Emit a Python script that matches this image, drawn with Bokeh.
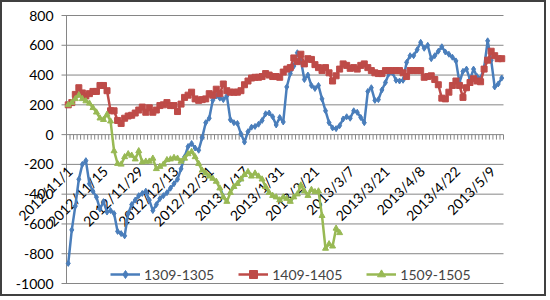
import math
from bokeh.plotting import figure
from bokeh.models import Range1d, Legend, LegendItem
from bokeh.core.properties import value
from bokeh.embed import file_html
from bokeh.resources import INLINE

# ---- data (one value per trading day) ----
s1309_1305 = [
    -865, -640, -480, -300, -200, -175, -330, -380, -420, -500,
    -450, -520, -510, -530, -650, -665, -680, -530, -470, -440,
    -410, -395, -380, -440, -510, -470, -430, -410, -390, -360,
    -330, -300, -230, -150, -80, -60, -90, -105, -20, 80,
    110, 230, 260, 245, 235, 260, 100, 80, 75, 5,
    -50, 20, 50, 55, 70, 95, 140, 145, 120, 65,
    115, 85, 320, 410, 460, 550, 500, 370, 400, 330,
    310, 330, 240, 160, 80, 45, 40, 60, 105, 120,
    110, 160, 150, 115, 80, 290, 315, 230, 235, 300,
    350, 410, 415, 365, 360, 365, 485, 530, 530, 570,
    620, 580, 600, 510, 530, 560, 590, 555, 540, 520,
    495, 350, 425, 440, 370, 440, 390, 380, 450, 630,
    500, 320, 340, 380,
]
s1409_1405 = [
    200, 215, 270, 315, 280, 260, 275, 290, 290, 330,
    330, 295, 160, 160, 95, 75, 110, 125, 130, 145,
    165, 185, 150, 180, 150, 165, 195, 200, 215, 195,
    195, 155, 205, 250, 265, 285, 240, 230, 235, 240,
    275, 265, 305, 275, 340, 295, 285, 285, 285, 295,
    335, 360, 380, 385, 385, 390, 410, 400, 390, 390,
    385, 420, 440, 450, 515, 490, 540, 475, 510, 505,
    470, 450, 430, 450, 415, 360, 395, 440, 475, 465,
    445, 450, 440, 465, 475, 450, 430, 415, 410, 410,
    430, 430, 430, 430, 430, 415, 390, 430, 430, 430,
    430, 385, 390, 395, 370, 335, 245, 240, 285, 330,
    360, 330, 250, 315, 350, 375, 360, 355, 440, 500,
    560, 530, 510, 510,
]
s1509_1505 = [
    200, 215, 240, 265, 240, 225, 210, 180, 150, 110,
    100, 135, 90, -110, -195, -200, -150, -130, -140, -165,
    -110, -185, -180, -180, -160, -230, -215, -200, -170, -165,
    -155, -160, -180, -160, -130, -115, -150, -195, -240, -260,
    -280, -295, -315, -360, -420, -450, -390, -350, -330, -300,
    -270, -250, -280, -260, -280, -300, -350, -390, -410, -420,
    -440, -420, -430, -450, -420, -400, -340, -380, -410, -370,
    -385, -380, -545, -765, -735, -750, -630, -660,
]
series_names = ["1309-1305", "1409-1405", "1509-1505"]
tick_labels = ["2012/11/1", "2012/11/15", "2012/11/29", "2012/12/13", "2012/12/31",
               "2013/1/17", "2013/1/31", "2013/2/21", "2013/3/7", "2013/3/21",
               "2013/4/8", "2013/4/22", "2013/5/9"]
label_every = 10
y_ticks = [-1000, -800, -600, -400, -200, 0, 200, 400, 600, 800]

n = len(s1309_1305)
FONT = "Lato"
GRID = "#868686"

# canvas / plot-area geometry (pixels)
W, H = 546, 296
FL, FT, PW, PH = 64, 13, 437, 268
YMIN, YMAX = y_ticks[0], y_ticks[-1]
px_per_cat = PW / n
px_per_unit = PH / (YMAX - YMIN)
x_lo = -0.5 - FL / px_per_cat
x_hi = n - 0.5 + (W - FL - PW) / px_per_cat
y_hi = YMAX + FT / px_per_unit
y_lo = YMIN - (H - FT - PH) / px_per_unit

p = figure(width=W, height=H, output_backend="svg", toolbar_location=None,
           x_range=Range1d(x_lo, x_hi), y_range=Range1d(y_lo, y_hi),
           x_axis_type=None, y_axis_type=None, min_border=0)
p.styles = {"border": "2px solid #404040"}
p.outline_line_color = None
p.background_fill_color = "white"
p.border_fill_color = "white"

# value axis: gridlines (with outside tick), axis line, labels
tick_len = 5 / px_per_cat
p.segment(x0=[-0.5 - tick_len] * len(y_ticks), y0=y_ticks,
          x1=[n - 0.5] * len(y_ticks), y1=y_ticks, line_color=GRID, line_width=1)
p.segment(x0=[-0.5], y0=[YMIN], x1=[-0.5], y1=[YMAX], line_color=GRID, line_width=1)
p.text(x=[-0.5 - 13 / px_per_cat] * len(y_ticks), y=y_ticks,
       text=[str(v) for v in y_ticks], text_align="right", text_baseline="middle",
       text_font=value(FONT), text_font_size="14px", text_color="#000000")

# category axis on the zero line: tick marks and rotated labels
bounds = [i - 0.5 for i in range(n + 1)]
p.segment(x0=bounds, y0=[0] * len(bounds), x1=bounds,
          y1=[-5 / px_per_unit] * len(bounds), line_color=GRID, line_width=1)
tick_pos = [k * label_every + 1.5 / px_per_cat for k in range(len(tick_labels))]
p.text(x=tick_pos, y=[-34 / px_per_unit] * len(tick_pos), text=tick_labels,
       angle=math.pi / 4, text_align="right", text_baseline="middle",
       text_font=value(FONT), text_font_size="14px", text_color="#000000")

colors = ["#4A7EBB", "#BE4B48", "#98B954"]
markers = ["diamond", "square", "triangle"]
msizes = [6, 6, 6]
items = []
for name, data, col, mk, ms in zip(series_names, [s1309_1305, s1409_1405, s1509_1505],
                                   colors, markers, msizes):
    xs = list(range(len(data)))
    lr = p.line(xs, data, line_color=col, line_width=2.5)
    sr = p.scatter(xs, data, marker=mk, size=ms, fill_color=col, line_color=col)
    items.append(LegendItem(label=name, renderers=[lr, sr]))

legend = Legend(items=items, orientation="horizontal", location=(108, 14),
                label_text_font=FONT, label_text_font_size="14px",
                glyph_width=30, glyph_height=20, label_height=20, label_standoff=4,
                spacing=24, padding=0, margin=0,
                background_fill_alpha=0, border_line_alpha=0)
p.add_layout(legend)

open("out.html", "w").write(file_html(p, INLINE))
